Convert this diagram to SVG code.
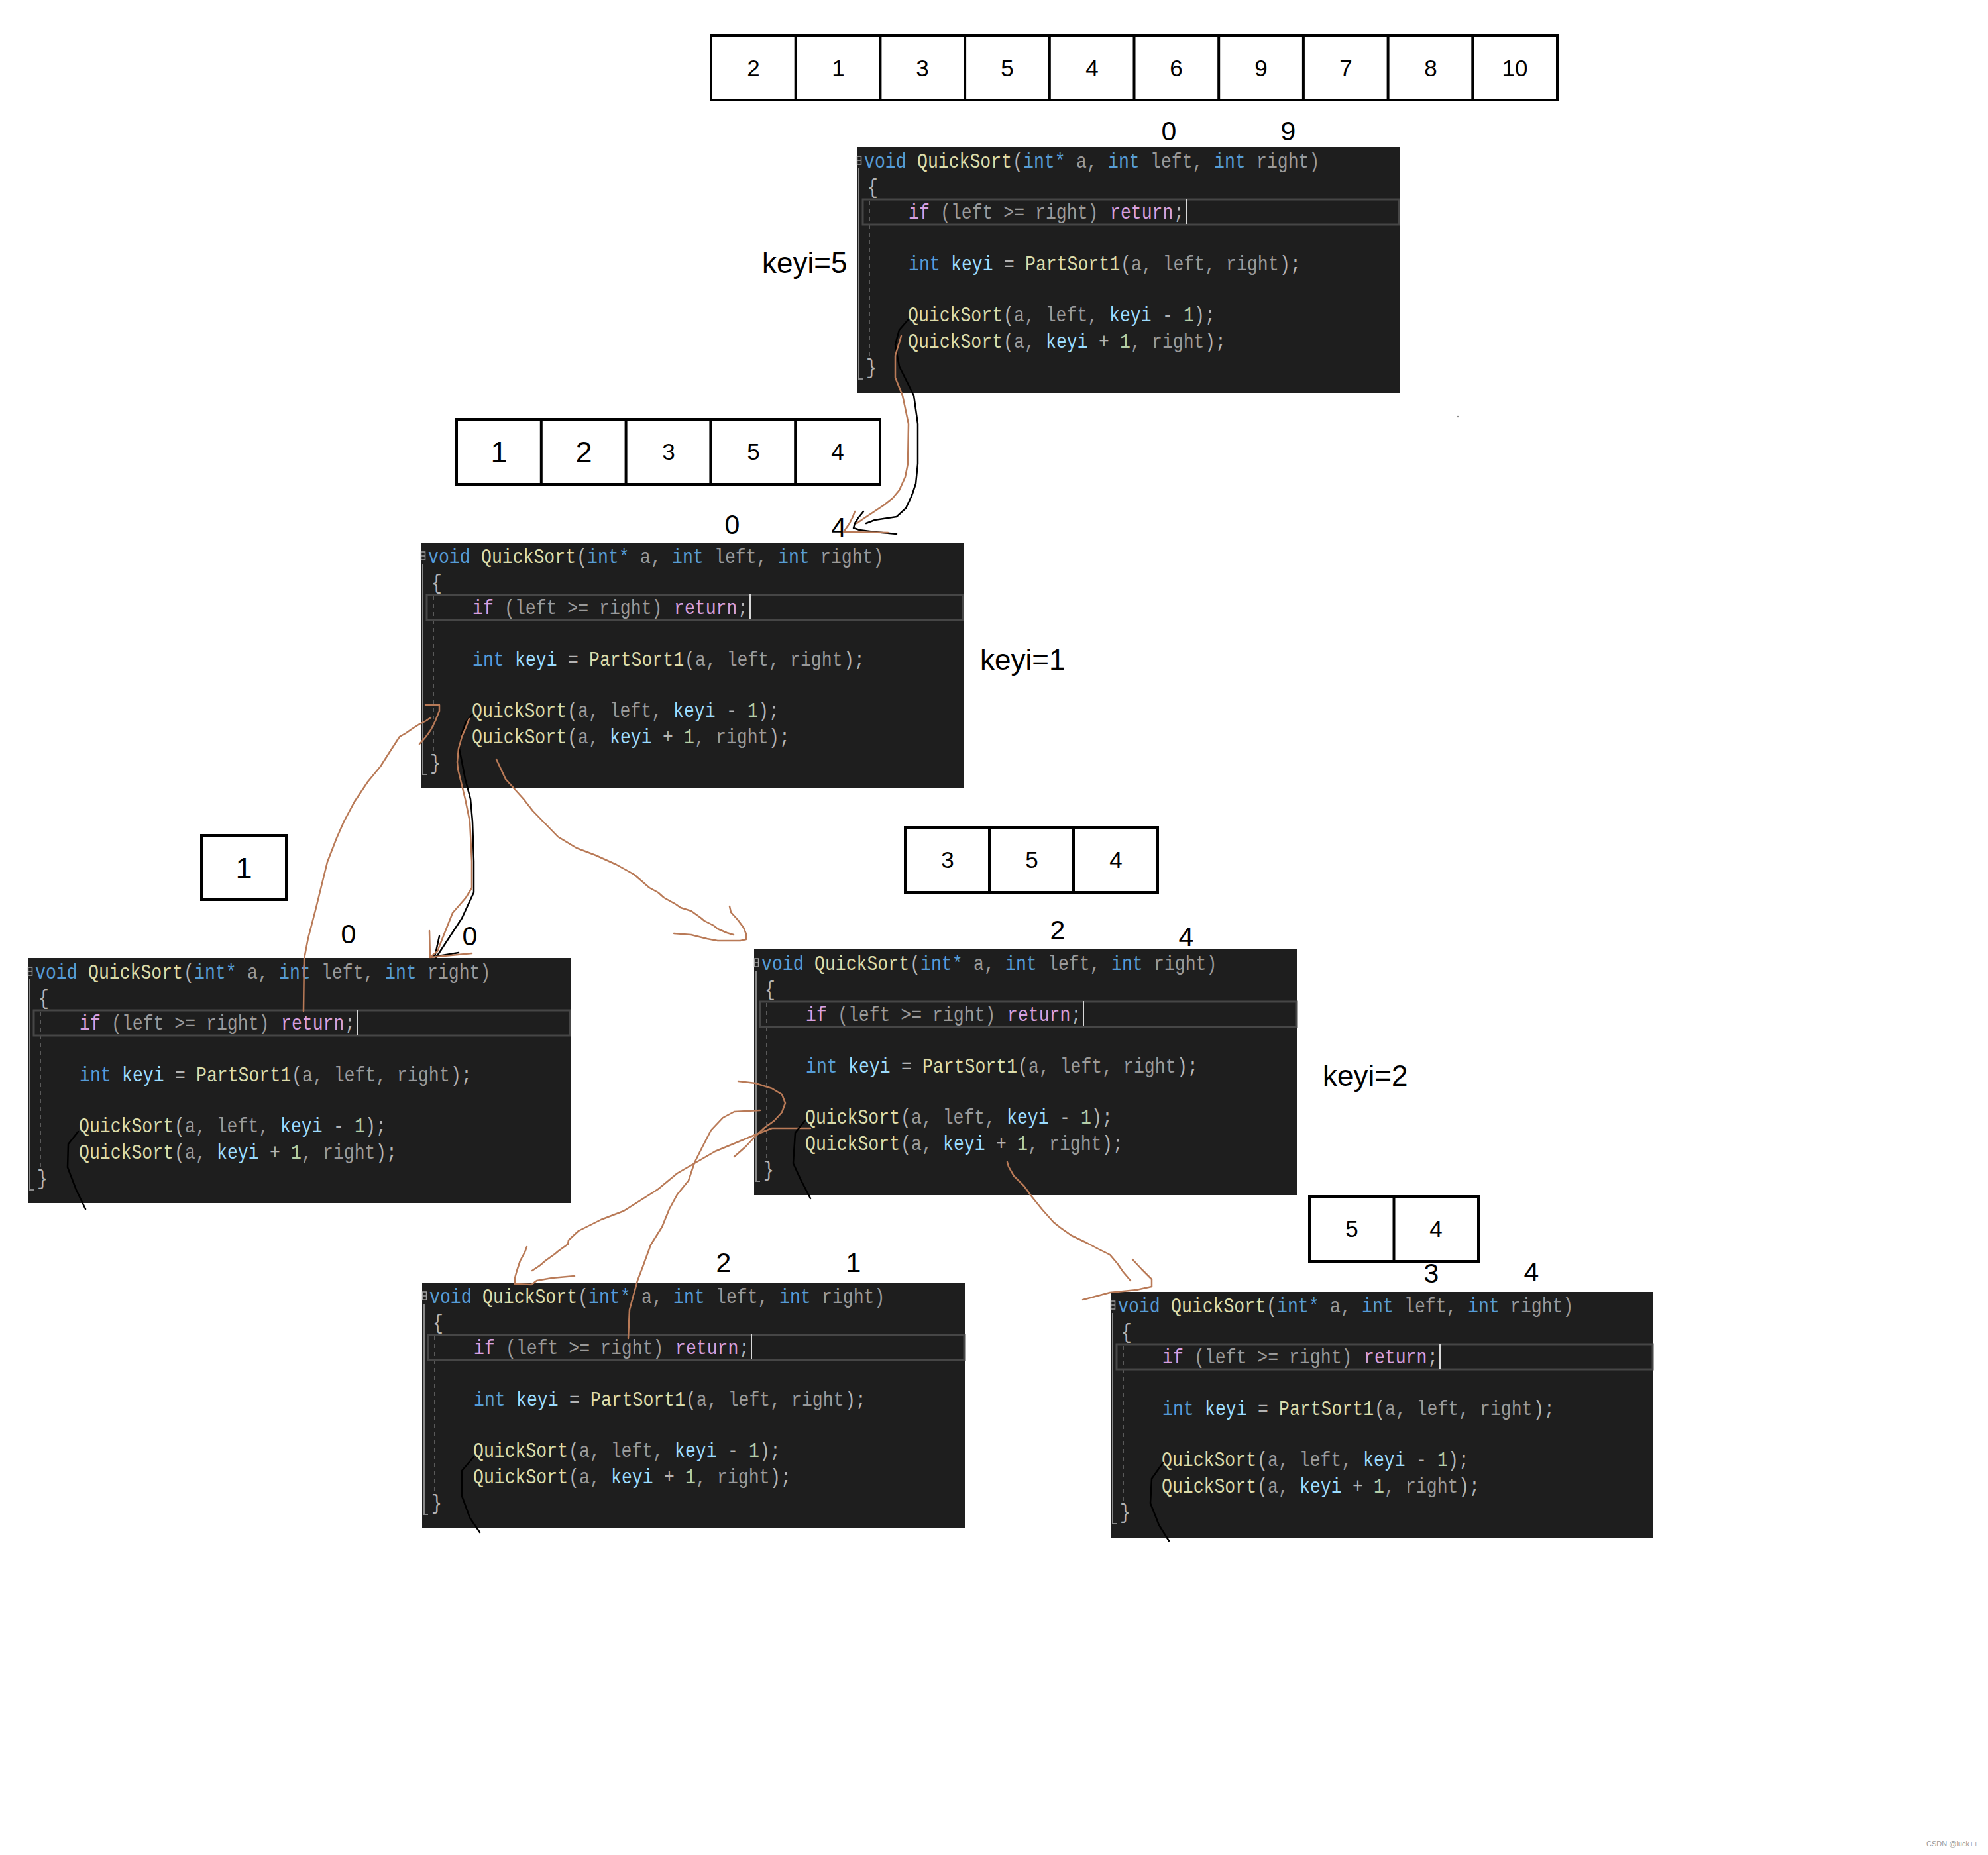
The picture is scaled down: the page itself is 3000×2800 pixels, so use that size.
<svg xmlns="http://www.w3.org/2000/svg" width="3000" height="2800" viewBox="0 0 3000 2800">
<style>
.bg{fill:#1e1e1e}
.c{font-family:"Liberation Mono","DejaVu Sans Mono",monospace;font-size:26.5px;white-space:pre}
.kw{fill:#569cd6}.fn{fill:#dcdcaa}.pr{fill:#9a9a9a}.vr{fill:#9cdcfe}.ct{fill:#d8a0df}.pu{fill:#b4b4b4}.nm{fill:#b5cea8}
.hl{fill:none;stroke:#464646;stroke-width:3}
.gut{fill:none;stroke:#8a8a8a;stroke-width:2}
.guide{fill:none;stroke:#6e6e6e;stroke-width:1.5;stroke-dasharray:6 6}
.cur{stroke:#d8d8d8;stroke-width:2}
.mk{fill:none;stroke:#a0a0a0;stroke-width:1.5}
.cell{fill:#fff;stroke:#000;stroke-width:4}
.num{font-family:"Liberation Sans",Arial,sans-serif;font-size:35px;text-anchor:middle;fill:#000}
.big{font-family:"Liberation Sans",Arial,sans-serif;font-size:45px;text-anchor:middle;fill:#000}
.lab{font-family:"Liberation Sans",Arial,sans-serif;font-size:41px;text-anchor:middle;fill:#000}
.keyi{font-family:"Liberation Sans",Arial,sans-serif;font-size:44px;fill:#000}
.bk{fill:none;stroke:#000;stroke-width:2.5;stroke-linejoin:round;stroke-linecap:round}
.br{fill:none;stroke:#b97a57;stroke-width:2.5;stroke-linejoin:round;stroke-linecap:round}
</style>
<rect width="3000" height="2800" fill="#fff"/>

<g id="array-top">
<rect class="cell" x="1073" y="54" width="1277" height="97"/>
<path class="cell" d="M1200.7,54V151M1328.4,54V151M1456.1,54V151M1583.8,54V151M1711.5,54V151M1839.2,54V151M1966.9,54V151M2094.6,54V151M2222.3,54V151"/>
<text class="num" x="1137" y="115">2</text><text class="num" x="1265" y="115">1</text><text class="num" x="1392" y="115">3</text><text class="num" x="1520" y="115">5</text><text class="num" x="1648" y="115">4</text><text class="num" x="1775" y="115">6</text><text class="num" x="1903" y="115">9</text><text class="num" x="2031" y="115">7</text><text class="num" x="2159" y="115">8</text><text class="num" x="2286" y="115">10</text>
</g>

<g id="labels">
<text class="lab" x="1764" y="212">0</text><text class="lab" x="1944" y="212">9</text>
<text class="keyi" x="1150" y="412">keyi=5</text>
<text class="lab" x="1105" y="806">0</text><text class="lab" x="1266" y="810">4</text>
<text class="keyi" x="1479" y="1011">keyi=1</text>
<text class="lab" x="526" y="1424">0</text><text class="lab" x="709" y="1427">0</text>
<text class="lab" x="1596" y="1418">2</text><text class="lab" x="1790" y="1428">4</text>
<text class="keyi" x="1996" y="1639">keyi=2</text>
<text class="lab" x="1092" y="1920">2</text><text class="lab" x="1288" y="1920">1</text>
<text class="lab" x="2160" y="1936">3</text><text class="lab" x="2311" y="1934">4</text>
</g>

<g id="array-12354">
<rect class="cell" x="689" y="633" width="639" height="98"/>
<path class="cell" d="M816.8,633V731M944.6,633V731M1072.4,633V731M1200.2,633V731"/>
<text class="big" x="753" y="698">1</text><text class="big" x="881" y="698">2</text><text class="num" x="1009" y="694">3</text><text class="num" x="1137" y="694">5</text><text class="num" x="1264" y="694">4</text>
</g>

<g id="array-1">
<rect class="cell" x="304" y="1261" width="128" height="97"/>
<text class="big" x="368" y="1326">1</text>
</g>

<g id="array-354">
<rect class="cell" x="1366" y="1249" width="381" height="98"/>
<path class="cell" d="M1493,1249V1347M1620,1249V1347"/>
<text class="num" x="1430" y="1310">3</text><text class="num" x="1557" y="1310">5</text><text class="num" x="1684" y="1310">4</text>
</g>

<g id="array-54">
<rect class="cell" x="1976" y="1806" width="255" height="98"/>
<path class="cell" d="M2103.5,1806V1904"/>
<text class="num" x="2040" y="1867">5</text><text class="num" x="2167" y="1867">4</text>
</g>

<g id="code-1" transform="translate(1293,222)">
<rect class="bg" width="819" height="371"/>
<rect class="mk" x="0.5" y="14" width="6" height="12"/><path class="mk" d="M0,20H6"/>
<path class="gut" d="M3,32V350H9"/><path class="guide" d="M19,81V315"/>
<rect class="hl" x="9" y="79" width="809" height="38"/><path class="cur" d="M497,78V116"/>
<g transform="translate(0,31) scale(1,1.17)"><text class="c kw" x="11" y="0">void</text><text class="c fn" x="91" y="0">QuickSort</text><text class="c pu" x="235" y="0">(</text><text class="c kw" x="251" y="0">int*</text><text class="c pr" x="331" y="0">a,</text><text class="c kw" x="379" y="0">int</text><text class="c pr" x="443" y="0">left,</text><text class="c kw" x="539" y="0">int</text><text class="c pr" x="603" y="0">right)</text></g>
<g transform="translate(0,70) scale(1,1.17)"><text class="c pu" x="16" y="0">{</text></g>
<g transform="translate(0,108) scale(1,1.17)"><text class="c ct" x="78" y="0">if</text><text class="c pr" x="126" y="0">(left &gt;= right)</text><text class="c ct" x="382" y="0">return</text><text class="c pu" x="478" y="0">;</text></g>
<g transform="translate(0,186) scale(1,1.17)"><text class="c kw" x="78" y="0">int</text><text class="c vr" x="142" y="0">keyi</text><text class="c pu" x="222" y="0">=</text><text class="c fn" x="254" y="0">PartSort1</text><text class="c pu" x="398" y="0">(</text><text class="c pr" x="414" y="0">a, left, right</text><text class="c pu" x="638" y="0">);</text></g>
<g transform="translate(0,263) scale(1,1.17)"><text class="c fn" x="77" y="0">QuickSort</text><text class="c pu" x="221" y="0">(</text><text class="c pr" x="237" y="0">a, left,</text><text class="c vr" x="381" y="0">keyi</text><text class="c pu" x="461" y="0">-</text><text class="c nm" x="493" y="0">1</text><text class="c pu" x="509" y="0">);</text></g>
<g transform="translate(0,303) scale(1,1.17)"><text class="c fn" x="77" y="0">QuickSort</text><text class="c pu" x="221" y="0">(</text><text class="c pr" x="237" y="0">a,</text><text class="c vr" x="285" y="0">keyi</text><text class="c pu" x="365" y="0">+</text><text class="c nm" x="397" y="0">1</text><text class="c pr" x="413" y="0">,</text><text class="c pr" x="445" y="0">right</text><text class="c pu" x="525" y="0">);</text></g>
<g transform="translate(0,342) scale(1,1.17)"><text class="c pu" x="14" y="0">}</text></g>
</g>

<g id="code-2" transform="translate(635,819)">
<rect class="bg" width="819" height="370"/>
<rect class="mk" x="0.5" y="14" width="6" height="12"/><path class="mk" d="M0,20H6"/>
<path class="gut" d="M3,32V350H9"/><path class="guide" d="M19,81V315"/>
<rect class="hl" x="9" y="79" width="809" height="38"/><path class="cur" d="M497,78V116"/>
<g transform="translate(0,31) scale(1,1.17)"><text class="c kw" x="11" y="0">void</text><text class="c fn" x="91" y="0">QuickSort</text><text class="c pu" x="235" y="0">(</text><text class="c kw" x="251" y="0">int*</text><text class="c pr" x="331" y="0">a,</text><text class="c kw" x="379" y="0">int</text><text class="c pr" x="443" y="0">left,</text><text class="c kw" x="539" y="0">int</text><text class="c pr" x="603" y="0">right)</text></g>
<g transform="translate(0,70) scale(1,1.17)"><text class="c pu" x="16" y="0">{</text></g>
<g transform="translate(0,108) scale(1,1.17)"><text class="c ct" x="78" y="0">if</text><text class="c pr" x="126" y="0">(left &gt;= right)</text><text class="c ct" x="382" y="0">return</text><text class="c pu" x="478" y="0">;</text></g>
<g transform="translate(0,186) scale(1,1.17)"><text class="c kw" x="78" y="0">int</text><text class="c vr" x="142" y="0">keyi</text><text class="c pu" x="222" y="0">=</text><text class="c fn" x="254" y="0">PartSort1</text><text class="c pu" x="398" y="0">(</text><text class="c pr" x="414" y="0">a, left, right</text><text class="c pu" x="638" y="0">);</text></g>
<g transform="translate(0,263) scale(1,1.17)"><text class="c fn" x="77" y="0">QuickSort</text><text class="c pu" x="221" y="0">(</text><text class="c pr" x="237" y="0">a, left,</text><text class="c vr" x="381" y="0">keyi</text><text class="c pu" x="461" y="0">-</text><text class="c nm" x="493" y="0">1</text><text class="c pu" x="509" y="0">);</text></g>
<g transform="translate(0,303) scale(1,1.17)"><text class="c fn" x="77" y="0">QuickSort</text><text class="c pu" x="221" y="0">(</text><text class="c pr" x="237" y="0">a,</text><text class="c vr" x="285" y="0">keyi</text><text class="c pu" x="365" y="0">+</text><text class="c nm" x="397" y="0">1</text><text class="c pr" x="413" y="0">,</text><text class="c pr" x="445" y="0">right</text><text class="c pu" x="525" y="0">);</text></g>
<g transform="translate(0,342) scale(1,1.17)"><text class="c pu" x="14" y="0">}</text></g>
</g>

<g id="code-3" transform="translate(42,1446)">
<rect class="bg" width="819" height="370"/>
<rect class="mk" x="0.5" y="14" width="6" height="12"/><path class="mk" d="M0,20H6"/>
<path class="gut" d="M3,32V350H9"/><path class="guide" d="M19,81V315"/>
<rect class="hl" x="9" y="79" width="809" height="38"/><path class="cur" d="M497,78V116"/>
<g transform="translate(0,31) scale(1,1.17)"><text class="c kw" x="11" y="0">void</text><text class="c fn" x="91" y="0">QuickSort</text><text class="c pu" x="235" y="0">(</text><text class="c kw" x="251" y="0">int*</text><text class="c pr" x="331" y="0">a,</text><text class="c kw" x="379" y="0">int</text><text class="c pr" x="443" y="0">left,</text><text class="c kw" x="539" y="0">int</text><text class="c pr" x="603" y="0">right)</text></g>
<g transform="translate(0,70) scale(1,1.17)"><text class="c pu" x="16" y="0">{</text></g>
<g transform="translate(0,108) scale(1,1.17)"><text class="c ct" x="78" y="0">if</text><text class="c pr" x="126" y="0">(left &gt;= right)</text><text class="c ct" x="382" y="0">return</text><text class="c pu" x="478" y="0">;</text></g>
<g transform="translate(0,186) scale(1,1.17)"><text class="c kw" x="78" y="0">int</text><text class="c vr" x="142" y="0">keyi</text><text class="c pu" x="222" y="0">=</text><text class="c fn" x="254" y="0">PartSort1</text><text class="c pu" x="398" y="0">(</text><text class="c pr" x="414" y="0">a, left, right</text><text class="c pu" x="638" y="0">);</text></g>
<g transform="translate(0,263) scale(1,1.17)"><text class="c fn" x="77" y="0">QuickSort</text><text class="c pu" x="221" y="0">(</text><text class="c pr" x="237" y="0">a, left,</text><text class="c vr" x="381" y="0">keyi</text><text class="c pu" x="461" y="0">-</text><text class="c nm" x="493" y="0">1</text><text class="c pu" x="509" y="0">);</text></g>
<g transform="translate(0,303) scale(1,1.17)"><text class="c fn" x="77" y="0">QuickSort</text><text class="c pu" x="221" y="0">(</text><text class="c pr" x="237" y="0">a,</text><text class="c vr" x="285" y="0">keyi</text><text class="c pu" x="365" y="0">+</text><text class="c nm" x="397" y="0">1</text><text class="c pr" x="413" y="0">,</text><text class="c pr" x="445" y="0">right</text><text class="c pu" x="525" y="0">);</text></g>
<g transform="translate(0,342) scale(1,1.17)"><text class="c pu" x="14" y="0">}</text></g>
</g>

<g id="code-4" transform="translate(1138,1433)">
<rect class="bg" width="819" height="371"/>
<rect class="mk" x="0.5" y="14" width="6" height="12"/><path class="mk" d="M0,20H6"/>
<path class="gut" d="M3,32V350H9"/><path class="guide" d="M19,81V315"/>
<rect class="hl" x="9" y="79" width="809" height="38"/><path class="cur" d="M497,78V116"/>
<g transform="translate(0,31) scale(1,1.17)"><text class="c kw" x="11" y="0">void</text><text class="c fn" x="91" y="0">QuickSort</text><text class="c pu" x="235" y="0">(</text><text class="c kw" x="251" y="0">int*</text><text class="c pr" x="331" y="0">a,</text><text class="c kw" x="379" y="0">int</text><text class="c pr" x="443" y="0">left,</text><text class="c kw" x="539" y="0">int</text><text class="c pr" x="603" y="0">right)</text></g>
<g transform="translate(0,70) scale(1,1.17)"><text class="c pu" x="16" y="0">{</text></g>
<g transform="translate(0,108) scale(1,1.17)"><text class="c ct" x="78" y="0">if</text><text class="c pr" x="126" y="0">(left &gt;= right)</text><text class="c ct" x="382" y="0">return</text><text class="c pu" x="478" y="0">;</text></g>
<g transform="translate(0,186) scale(1,1.17)"><text class="c kw" x="78" y="0">int</text><text class="c vr" x="142" y="0">keyi</text><text class="c pu" x="222" y="0">=</text><text class="c fn" x="254" y="0">PartSort1</text><text class="c pu" x="398" y="0">(</text><text class="c pr" x="414" y="0">a, left, right</text><text class="c pu" x="638" y="0">);</text></g>
<g transform="translate(0,263) scale(1,1.17)"><text class="c fn" x="77" y="0">QuickSort</text><text class="c pu" x="221" y="0">(</text><text class="c pr" x="237" y="0">a, left,</text><text class="c vr" x="381" y="0">keyi</text><text class="c pu" x="461" y="0">-</text><text class="c nm" x="493" y="0">1</text><text class="c pu" x="509" y="0">);</text></g>
<g transform="translate(0,303) scale(1,1.17)"><text class="c fn" x="77" y="0">QuickSort</text><text class="c pu" x="221" y="0">(</text><text class="c pr" x="237" y="0">a,</text><text class="c vr" x="285" y="0">keyi</text><text class="c pu" x="365" y="0">+</text><text class="c nm" x="397" y="0">1</text><text class="c pr" x="413" y="0">,</text><text class="c pr" x="445" y="0">right</text><text class="c pu" x="525" y="0">);</text></g>
<g transform="translate(0,342) scale(1,1.17)"><text class="c pu" x="14" y="0">}</text></g>
</g>

<g id="code-5" transform="translate(637,1936)">
<rect class="bg" width="819" height="371"/>
<rect class="mk" x="0.5" y="14" width="6" height="12"/><path class="mk" d="M0,20H6"/>
<path class="gut" d="M3,32V350H9"/><path class="guide" d="M19,81V315"/>
<rect class="hl" x="9" y="79" width="809" height="38"/><path class="cur" d="M497,78V116"/>
<g transform="translate(0,31) scale(1,1.17)"><text class="c kw" x="11" y="0">void</text><text class="c fn" x="91" y="0">QuickSort</text><text class="c pu" x="235" y="0">(</text><text class="c kw" x="251" y="0">int*</text><text class="c pr" x="331" y="0">a,</text><text class="c kw" x="379" y="0">int</text><text class="c pr" x="443" y="0">left,</text><text class="c kw" x="539" y="0">int</text><text class="c pr" x="603" y="0">right)</text></g>
<g transform="translate(0,70) scale(1,1.17)"><text class="c pu" x="16" y="0">{</text></g>
<g transform="translate(0,108) scale(1,1.17)"><text class="c ct" x="78" y="0">if</text><text class="c pr" x="126" y="0">(left &gt;= right)</text><text class="c ct" x="382" y="0">return</text><text class="c pu" x="478" y="0">;</text></g>
<g transform="translate(0,186) scale(1,1.17)"><text class="c kw" x="78" y="0">int</text><text class="c vr" x="142" y="0">keyi</text><text class="c pu" x="222" y="0">=</text><text class="c fn" x="254" y="0">PartSort1</text><text class="c pu" x="398" y="0">(</text><text class="c pr" x="414" y="0">a, left, right</text><text class="c pu" x="638" y="0">);</text></g>
<g transform="translate(0,263) scale(1,1.17)"><text class="c fn" x="77" y="0">QuickSort</text><text class="c pu" x="221" y="0">(</text><text class="c pr" x="237" y="0">a, left,</text><text class="c vr" x="381" y="0">keyi</text><text class="c pu" x="461" y="0">-</text><text class="c nm" x="493" y="0">1</text><text class="c pu" x="509" y="0">);</text></g>
<g transform="translate(0,303) scale(1,1.17)"><text class="c fn" x="77" y="0">QuickSort</text><text class="c pu" x="221" y="0">(</text><text class="c pr" x="237" y="0">a,</text><text class="c vr" x="285" y="0">keyi</text><text class="c pu" x="365" y="0">+</text><text class="c nm" x="397" y="0">1</text><text class="c pr" x="413" y="0">,</text><text class="c pr" x="445" y="0">right</text><text class="c pu" x="525" y="0">);</text></g>
<g transform="translate(0,342) scale(1,1.17)"><text class="c pu" x="14" y="0">}</text></g>
</g>

<g id="code-6" transform="translate(1676,1950)">
<rect class="bg" width="819" height="371"/>
<rect class="mk" x="0.5" y="14" width="6" height="12"/><path class="mk" d="M0,20H6"/>
<path class="gut" d="M3,32V350H9"/><path class="guide" d="M19,81V315"/>
<rect class="hl" x="9" y="79" width="809" height="38"/><path class="cur" d="M497,78V116"/>
<g transform="translate(0,31) scale(1,1.17)"><text class="c kw" x="11" y="0">void</text><text class="c fn" x="91" y="0">QuickSort</text><text class="c pu" x="235" y="0">(</text><text class="c kw" x="251" y="0">int*</text><text class="c pr" x="331" y="0">a,</text><text class="c kw" x="379" y="0">int</text><text class="c pr" x="443" y="0">left,</text><text class="c kw" x="539" y="0">int</text><text class="c pr" x="603" y="0">right)</text></g>
<g transform="translate(0,70) scale(1,1.17)"><text class="c pu" x="16" y="0">{</text></g>
<g transform="translate(0,108) scale(1,1.17)"><text class="c ct" x="78" y="0">if</text><text class="c pr" x="126" y="0">(left &gt;= right)</text><text class="c ct" x="382" y="0">return</text><text class="c pu" x="478" y="0">;</text></g>
<g transform="translate(0,186) scale(1,1.17)"><text class="c kw" x="78" y="0">int</text><text class="c vr" x="142" y="0">keyi</text><text class="c pu" x="222" y="0">=</text><text class="c fn" x="254" y="0">PartSort1</text><text class="c pu" x="398" y="0">(</text><text class="c pr" x="414" y="0">a, left, right</text><text class="c pu" x="638" y="0">);</text></g>
<g transform="translate(0,263) scale(1,1.17)"><text class="c fn" x="77" y="0">QuickSort</text><text class="c pu" x="221" y="0">(</text><text class="c pr" x="237" y="0">a, left,</text><text class="c vr" x="381" y="0">keyi</text><text class="c pu" x="461" y="0">-</text><text class="c nm" x="493" y="0">1</text><text class="c pu" x="509" y="0">);</text></g>
<g transform="translate(0,303) scale(1,1.17)"><text class="c fn" x="77" y="0">QuickSort</text><text class="c pu" x="221" y="0">(</text><text class="c pr" x="237" y="0">a,</text><text class="c vr" x="285" y="0">keyi</text><text class="c pu" x="365" y="0">+</text><text class="c nm" x="397" y="0">1</text><text class="c pr" x="413" y="0">,</text><text class="c pr" x="445" y="0">right</text><text class="c pu" x="525" y="0">);</text></g>
<g transform="translate(0,342) scale(1,1.17)"><text class="c pu" x="14" y="0">}</text></g>
</g>

<g id="connectors">
<path class="bk" d="M1370,483L1357,498L1351,520L1357,553L1379,597L1385,640L1385,700L1382,730L1377,745L1375,750L1367,767L1353,780L1340,782L1320,785L1307,790"/>
<path class="bk" d="M1303,772L1295,782L1290,790L1288,797L1297,800L1320,803L1353,806"/>
<path class="br" d="M1360,507L1351,537L1351,570L1362,597L1371,640L1370,700L1366,720L1357,740L1347,752L1333,763L1318,773L1303,783L1293,790"/>
<path class="br" d="M1290,772L1287,780L1282,790L1273,803L1340,804"/>
<path class="bk" d="M713,1078L703,1090L697,1107L693,1130L697,1150L702,1176L710,1206L713,1240L715,1300L715,1347L697,1386L672,1424L657,1447"/>
<path class="bk" d="M663,1413L657,1440L649,1446M655,1444L692,1438"/>
<path class="br" d="M708,1085L703,1098L697,1112L692,1130L690,1150L691,1161L702,1206L709,1240L712,1300L712,1340L703,1355L683,1378L669,1413L660,1436L649,1445"/>
<path class="br" d="M648,1405L649,1445L712,1439"/>
<path class="br" d="M458,1526L459,1447L465,1416L476,1374L494,1301L508,1265L519,1240L535,1210L555,1180L574,1157L590,1132L603,1112L612,1107L622,1100L633,1093L643,1088L650,1083"/>
<path class="br" d="M642,1064L663,1064L663,1073L657,1088L650,1102L642,1113L633,1123"/>
<path class="br" d="M749,1146L763,1176L790,1206L804,1224L842,1263L870,1280L899,1291L930,1305L957,1320L980,1340L993,1347L1002,1355L1020,1365L1027,1370L1043,1375L1057,1385L1063,1390L1077,1397L1083,1402L1097,1408L1107,1411"/>
<path class="br" d="M1101,1368L1103,1377L1113,1388L1122,1400L1126,1410L1126,1418L1117,1420L1083,1420L1067,1417L1043,1411L1017,1409"/>
<path class="br" d="M1114,1632L1140,1635L1165,1643L1180,1652L1185,1665L1180,1679L1168,1692L1154,1702L1140,1715L1125,1731L1108,1746"/>
<path class="br" d="M1223,1703L1165,1703L1137,1714L1079,1738L1022,1771L993,1795L941,1828L907,1841L873,1858L858,1872L857,1878L843,1888L837,1893L823,1903L815,1910L803,1918"/>
<path class="br" d="M795,1882L792,1890L785,1903L780,1918L777,1929L777,1938L802,1939L810,1933L833,1929L867,1926"/>
<path class="br" d="M948,2020L950,1977L962,1933L970,1912L982,1879L999,1852L1010,1825L1022,1803L1039,1782L1048,1755L1059,1733L1073,1706L1091,1687L1108,1678L1147,1676"/>
<path class="br" d="M1520,1754L1522,1761L1530,1775L1545,1790L1556,1805L1573,1826L1590,1845L1600,1853L1617,1865L1640,1876L1657,1885L1675,1894L1686,1907L1695,1920L1706,1933"/>
<path class="br" d="M1709,1901L1723,1916L1738,1931L1738,1942L1715,1947L1675,1951L1634,1962"/>
<path class="bk" d="M118,1708L103,1727L102,1762L115,1796L129,1825"/>
<path class="bk" d="M1215,1691L1200,1710L1197,1756L1209,1782L1223,1809"/>
<path class="bk" d="M715,2199L697,2220L697,2258L709,2291L724,2313"/>
<path class="bk" d="M1755,2208L1738,2232L1736,2269L1749,2302L1764,2326"/>
</g>

<circle cx="2200" cy="629" r="1.2" fill="#888"/>
<text x="2907" y="2787" font-family="Liberation Sans, Arial, sans-serif" font-size="11" fill="#999">CSDN @luck++</text>
</svg>
